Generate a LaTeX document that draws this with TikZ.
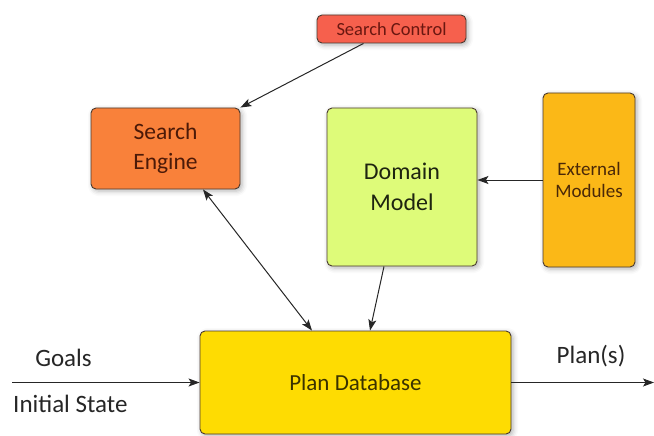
\documentclass[tikz,border=0pt]{standalone}
\usepackage{fontspec}
\setmainfont{Carlito}
\usetikzlibrary{shadows.blur}
\usetikzlibrary{arrows.meta}
\definecolor{ctlred}{HTML}{F6604D}
\definecolor{ctltxt}{HTML}{6A1710}
\definecolor{engorange}{HTML}{F9813A}
\definecolor{engtxt}{HTML}{4C1A08}
\definecolor{domlime}{HTML}{DEFB79}
\definecolor{domtxt}{HTML}{1E2410}
\definecolor{extamber}{HTML}{FBB817}
\definecolor{exttxt}{HTML}{4A2808}
\definecolor{dbyellow}{HTML}{FEDC02}
\definecolor{dbtxt}{HTML}{3A3200}
\definecolor{edge}{HTML}{4A3A30}
\tikzset{
	blk/.style={rectangle,rounded corners=5pt,draw=edge,line width=0.9pt,align=center,
		blur shadow={shadow xshift=2pt,shadow yshift=-2pt,shadow blur radius=5pt,shadow opacity=30}},
	ctl/.style={blk,fill=ctlred,text=ctltxt,minimum width=149pt,minimum height=28pt,font=\fontsize{18.5}{20}\selectfont},
	eng/.style={blk,fill=engorange,text=engtxt,minimum width=149pt,minimum height=81pt,font=\fontsize{23.5}{30}\selectfont},
	dom/.style={blk,fill=domlime,text=domtxt,minimum width=150pt,minimum height=158pt,font=\fontsize{24}{31.5}\selectfont},
	ext/.style={blk,fill=extamber,text=exttxt,minimum width=92pt,minimum height=174pt,font=\fontsize{19}{22}\selectfont},
	pdb/.style={blk,fill=dbyellow,text=dbtxt,minimum width=311pt,minimum height=103pt,font=\fontsize{23}{26}\selectfont},
	lbl/.style={inner sep=0pt,text=black!85,font=\fontsize{25}{28}\selectfont},
	flow/.style={-{Stealth[length=11pt,width=8pt,inset=2.5pt]},line width=1pt,draw=black!85},
	dflow/.style={{Stealth[length=11pt,width=8pt,inset=2.5pt]}-{Stealth[length=11pt,width=8pt,inset=2.5pt]},line width=1pt,draw=black!85},
	}
\begin{document}
\begin{tikzpicture}[x=1pt,y=-1pt]
\useasboundingbox (0,0) rectangle (654,436);
%NODES
\node[ctl] (sc) at (391.5,29) {Search Control};
\node[eng] (se) at (165.5,148.5) {Search\\Engine};
\node[dom] (dm) at (402,187) {Domain\\Model};
\node[ext] (em) at (589,180) {External\\Modules};
\node[pdb] (pd) at (355.5,382.5) {Plan Database};
%ESTREMI
\coordinate (in) at (12,382.5);
\coordinate (out) at (654,382.5);
%LABEL
\node[lbl,anchor=base] (goals) at (63.5,366) {Goals};
\node[lbl,anchor=base west] (init) at (13,412) {Initial State};
\node[lbl,anchor=base] (plans) at (591,363) {Plan(s)};
%FRECCE
\draw[flow] ([xshift=-28pt]sc.south) -- (se.north east);
\draw[dflow] ([xshift=37.5pt]se.south) -- ([xshift=-43.5pt]pd.north);
\draw[flow] ([xshift=-18pt]dm.south) -- ([xshift=14.5pt]pd.north);
\draw[flow] (em.west) -- (em.west -| dm.east);
\draw[flow] (in) -- (pd.west);
\draw[flow] (pd.east) -- (out);
\end{tikzpicture}
\end{document}
